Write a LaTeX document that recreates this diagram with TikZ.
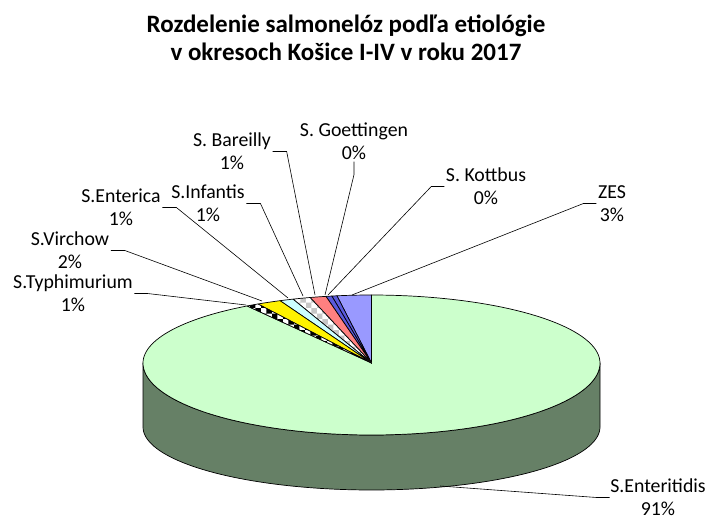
\documentclass[tikz,border=0pt]{standalone}
\usepackage{fontspec}
\setmainfont{Carlito}
\usetikzlibrary{patterns}
\definecolor{entTop}{RGB}{204,255,204}
\definecolor{entSide}{RGB}{102,128,102}
\definecolor{zesBlue}{RGB}{153,153,255}
\definecolor{sliverBlue}{RGB}{90,90,220}
\definecolor{barRed}{RGB}{255,128,128}
\definecolor{entCyan}{RGB}{204,255,255}
\begin{document}
\begin{tikzpicture}[x=1pt,y=-1pt,
	slice/.style={draw=black, line width=0.7pt, line join=round},
	zes/.style={fill=zesBlue},
	sliver/.style={fill=sliverBlue},
	bar/.style={fill=barRed},
	infpat/.style={preaction={fill=white}, pattern=checkerboard, pattern color=gray!45},
	entcyan/.style={fill=entCyan},
	virc/.style={fill=yellow},
	typhpat/.style={preaction={fill=white}, pattern=checkerboard, pattern color=black},
	lbl/.style={align=center, font=\fontsize{19.8}{23}\selectfont, inner sep=1.5pt},
	lead/.style={draw=black, line width=0.6pt}]
	\useasboundingbox (0,0) rectangle (709,521);
	\node[font=\fontsize{25}{28}\selectfont\bfseries, align=center] (title) at (346,38)
		{Rozdelenie salmonelóz podľa etiológie\\v okresoch Košice I-IV v roku 2017};
	% pie side and the big slice
	\filldraw[slice, fill=entSide] plot[domain=180:360, samples=90] ({371.5+228.5*cos(\x)},{363-72*sin(\x)})
		-- plot[domain=360:180, samples=90] ({371.5+228.5*cos(\x)},{427-63*sin(\x)}) -- cycle;
	\filldraw[slice, fill=entTop] (371.5,363)
		-- plot[domain=123:180, samples=30] ({371.5+228.5*cos(\x)},{363-68*sin(\x)})
		-- plot[domain=180:360, samples=90] ({371.5+228.5*cos(\x)},{363-72*sin(\x)})
		-- plot[domain=360:450, samples=40] ({371.5+228.5*cos(\x)},{363-68*sin(\x)}) -- cycle;
	% small slices
	\foreach \a/\b/\s in {90/98.7/zes, 98.7/100/sliver, 100/101.5/sliver, 101.5/105.6/bar,
			105.6/110.1/infpat, 110.1/113.6/entcyan, 113.6/119.8/virc, 119.8/123/typhpat}
		\filldraw[slice, \s] (371.5,363)
			-- plot[domain=\a:\b, samples=8] ({371.5+228.5*cos(\x)},{363-68*sin(\x)}) -- cycle;
	% leader ends
	\coordinate (pTyph) at (246,305);
	\coordinate (pVirc) at (262,301);
	\coordinate (pEnter) at (288,298);
	\coordinate (pInf) at (303,296);
	\coordinate (pBar) at (315,295);
	\coordinate (pGoet) at (325,295);
	\coordinate (pKott) at (328,295);
	\coordinate (pZes) at (352,295);
	\coordinate (pEnt) at (440,486);
	% labels
	\node[lbl] (typh) at (73,293.5) {S.Typhimurium\\1\%};
	\node[lbl] (virc) at (70,250.5) {S.Virchow\\2\%};
	\node[lbl] (enter) at (121,207.5) {S.Enterica\\1\%};
	\node[lbl] (inf) at (208,203.5) {S.Infantis\\1\%};
	\node[lbl] (bar) at (232,151.5) {S. Bareilly\\1\%};
	\node[lbl] (goet) at (354,141.5) {S. Goettingen\\0\%};
	\node[lbl] (kott) at (486,186.5) {S. Kottbus\\0\%};
	\node[lbl] (zesl) at (612,203.5) {ZES\\3\%};
	\node[lbl, inner sep=0.5pt] (ent) at (658,497.5) {S.Enteritidis\\91\%};
	\draw[lead] (typh.east) -- ++(13,0) -- (pTyph);
	\draw[lead] (virc.east) -- ++(14,0) -- (pVirc);
	\draw[lead] (enter.east) -- ++(14,0) -- (pEnter);
	\draw[lead] (inf.east) -- ++(14,0) -- (pInf);
	\draw[lead] (bar.east) -- ++(14,0) -- (pBar);
	\draw[lead] (goet.south) -- ++(0,13) -- (pGoet);
	\draw[lead] (kott.west) -- ++(-13,0) -- (pKott);
	\draw[lead] (zesl.west) -- ++(-13,0) -- (pZes);
	\draw[lead] (ent.west) -- ++(-13,0) -- (pEnt);
\end{tikzpicture}
\end{document}
